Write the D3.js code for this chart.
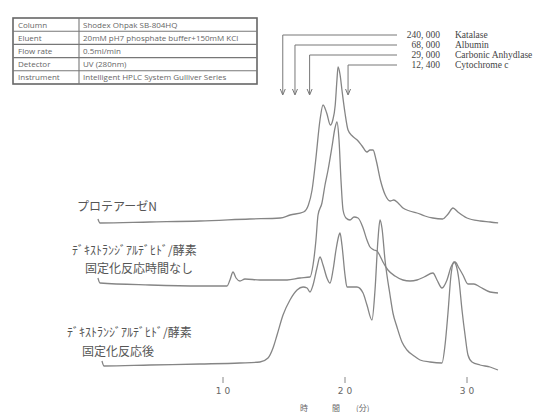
<!DOCTYPE html>
<html>
<head>
<meta charset="utf-8">
<script src="https://cdn.jsdelivr.net/npm/d3@7"></script>
<style>
  body { margin: 0; background: #fff; }
  svg { display: block; }
  .trace { fill: none; stroke: #858585; stroke-width: 1.3; stroke-linejoin: round; }
  .lbl { font-family: "Noto Sans CJK JP", sans-serif; font-size: 12px; fill: #555; }
  .tbl { font-family: "Open Sans", "Liberation Sans", sans-serif; font-size: 8px; fill: #666; }
  .mw { font-family: "Liberation Serif", serif; font-size: 9.5px; fill: #444; }
</style>
</head>
<body>
<svg id="chart" width="557" height="412"></svg>
<script>
// conditions table
var tableKeys = ['Column', 'Eluent', 'Flow rate', 'Detector', 'Instrument']
var tableVals = ['Shodex Ohpak SB-804HQ', '20mM pH7  phosphate buffer+150mM KCl', '0.5ml/min', 'UV (280nm)', 'Intelligent HPLC System Gulliver Series']

// molecular weight markers (retention time, min)
var markerMW = ['240, 000', '68, 000', '29, 000', '12, 400']
var markerNames = ['Katalase', 'Albumin', 'Carbonic Anhydlase', 'Cytochrome c']
var markerTimes = [14.9, 15.9, 17.1, 20.25]

var ticks = [10, 20, 30]
var traceNames = [
  ['プロテアーゼN'],
  ['ﾃﾞｷｽﾄﾗﾝｼﾞｱﾙﾃﾞﾋﾄﾞ/酵素', '固定化反応時間なし'],
  ['ﾃﾞｷｽﾄﾗﾝｼﾞｱﾙﾃﾞﾋﾄﾞ/酵素', '固定化反応後']
]
var offsets = [148, 85, 4]

// [time (min), signal]
var proteaseN = [[-0.25,3],[-0.08,-1],[4.0,0],[8.1,1],[12.2,3],[14.7,4],[15.5,7],[16.6,10],[17.0,17],[17.3,32],[17.6,62],[17.95,102],[18.2,117],[18.5,109],[18.8,97],[19.0,102],[19.2,117],[19.34,142],[19.43,155],[19.6,147],[19.75,132],[20.0,109],[20.25,92],[20.6,86],[21.0,82],[21.4,76],[21.8,70],[22.05,72],[22.3,72],[22.55,62],[22.9,42],[23.3,27],[23.7,21],[24.0,22],[24.35,19],[24.75,14],[25.3,11],[25.9,9],[26.55,6],[27.2,4],[28.0,3],[28.45,8],[28.85,14],[29.25,10],[30.0,4],[31.1,1],[31.9,0],[32.55,-1]]

var noReaction = [[-0.25,7],[-0.08,2],[4.0,0],[8.1,-1],[10.33,-1],[10.57,5],[10.82,13],[11.07,7],[11.39,4],[11.8,6],[13.03,5],[15.25,5],[16.31,7],[17.13,8],[17.38,20],[17.62,45],[17.79,70],[18.11,82],[18.36,100],[18.61,115],[18.93,138],[19.18,157],[19.34,163],[19.51,145],[19.67,105],[19.84,75],[20.08,67],[20.41,65],[20.74,68],[21.07,67],[21.48,57],[21.8,45],[22.05,38],[22.38,35],[22.62,34],[22.87,29],[23.11,23],[23.52,15],[24.1,9],[24.75,5],[25.33,4],[25.9,5],[26.48,8],[27.21,12],[27.54,5],[27.95,-3],[28.36,5],[28.69,18],[29.02,23],[29.34,17],[29.67,10],[30.08,1],[30.57,1],[31.07,-2],[31.89,-7],[32.54,-8]]

var afterReaction = [[0.08,5],[0.25,0],[4.02,1],[8.11,2],[11.39,3],[13.03,4],[13.69,8],[14.1,18],[14.43,31],[14.92,51],[15.49,66],[16.07,76],[16.56,79],[16.89,78],[17.13,74],[17.38,81],[17.7,98],[17.95,109],[18.2,101],[18.52,88],[18.77,83],[19.02,96],[19.26,116],[19.51,131],[19.59,133],[19.75,121],[20.0,91],[20.16,79],[20.57,79],[20.98,79],[21.48,73],[21.8,61],[22.21,46],[22.46,76],[22.7,126],[22.87,146],[23.03,138],[23.28,106],[23.69,71],[23.93,53],[24.26,39],[24.67,24],[25.08,16],[25.66,10],[26.15,6],[26.97,4],[27.95,3],[28.2,21],[28.44,53],[28.69,91],[28.93,104],[29.1,101],[29.34,86],[29.59,56],[29.84,31],[30.08,11],[30.41,4],[31.07,1],[31.89,-1],[32.54,-4]]

var traces = [proteaseN, noReaction, afterReaction]

var svg = d3.select('#chart')

var x = d3.scaleLinear().domain([10, 30]).range([223, 467])
var y = d3.scaleLinear().domain([0, 320]).range([370, 50])

var line = d3.line()
  .x(d => x(d[0]))
  .y(d => y(d[1]))
  .curve(d3.curveMonotoneX)

traces.forEach(function(tr, i){
  svg.append('path')
    .attr('class', 'trace')
    .attr('d', line(tr.map(d => [d[0], d[1] + offsets[i]])))
})

// trace labels
var labelPos = [[[77, 211]], [[72, 255], [85, 273]], [[67, 337], [82, 356]]]
traceNames.forEach(function(names, i){
  names.forEach(function(n, j){
    svg.append('text')
      .attr('class', 'lbl')
      .attr('x', labelPos[i][j][0])
      .attr('y', labelPos[i][j][1])
      .text(n)
  })
})

// x ticks, no axis line
var tk = svg.append('g')
tk.selectAll('line')
  .data(ticks)
  .enter().append('line')
  .attr('x1', d => x(d)).attr('x2', d => x(d))
  .attr('y1', 377).attr('y2', 383)
  .attr('stroke', '#888').attr('stroke-width', 1)
tk.selectAll('text')
  .data(ticks)
  .enter().append('text')
  .attr('x', d => x(d))
  .attr('y', 394)
  .attr('text-anchor', 'middle')
  .attr('font-family', 'DejaVu Sans, sans-serif')
  .attr('font-size', 9)
  .attr('fill', '#666')
  .text(d => String(d).split('').join(' '))

svg.append('text')
  .attr('x', 300).attr('y', 411)
  .attr('font-family', 'Noto Sans CJK JP, sans-serif')
  .attr('font-size', 8)
  .attr('fill', '#666')
  .attr('xml:space', 'preserve')
  .text('時　　　間　　(分)')

// conditions table
var tb = svg.append('g')
var rowH = 13.2, tx0 = 13, tx1 = 257, ty0 = 18, tdiv = 79
tb.append('rect')
  .attr('x', tx0).attr('y', ty0)
  .attr('width', tx1 - tx0).attr('height', rowH * tableKeys.length)
  .attr('fill', 'none').attr('stroke', '#666').attr('stroke-width', 1.6)
tableKeys.forEach(function(k, i){
  if (i > 0) {
    tb.append('line')
      .attr('x1', tx0).attr('x2', tx1)
      .attr('y1', ty0 + i * rowH).attr('y2', ty0 + i * rowH)
      .attr('stroke', '#777').attr('stroke-width', 1.1)
  }
  tb.append('text').attr('class', 'tbl')
    .attr('x', tx0 + 5).attr('y', ty0 + i * rowH + 9.5).text(k)
  tb.append('text').attr('class', 'tbl')
    .attr('x', tdiv + 4).attr('y', ty0 + i * rowH + 9.5).text(tableVals[i])
})
tb.append('line')
  .attr('x1', tdiv).attr('x2', tdiv)
  .attr('y1', ty0).attr('y2', ty0 + rowH * tableKeys.length)
  .attr('stroke', '#777').attr('stroke-width', 1.1)

// molecular weight marker arrows
var mk = svg.append('g')
var rowY = [35, 45, 55, 65]
markerMW.forEach(function(mw, i){
  var ax = x(markerTimes[i])
  mk.append('path')
    .attr('d', 'M397,' + rowY[i] + 'H' + ax + 'V94')
    .attr('fill', 'none').attr('stroke', '#777').attr('stroke-width', 1)
  mk.append('path')
    .attr('d', 'M' + (ax - 2.5) + ',89L' + ax + ',95L' + (ax + 2.5) + ',89')
    .attr('fill', 'none').attr('stroke', '#777').attr('stroke-width', 1)
  mk.append('text').attr('class', 'mw')
    .attr('x', 440).attr('y', rowY[i] + 3.3)
    .attr('text-anchor', 'end').text(mw)
  mk.append('text').attr('class', 'mw')
    .attr('x', 455).attr('y', rowY[i] + 3.3)
    .text(markerNames[i])
})
</script>
</body>
</html>
